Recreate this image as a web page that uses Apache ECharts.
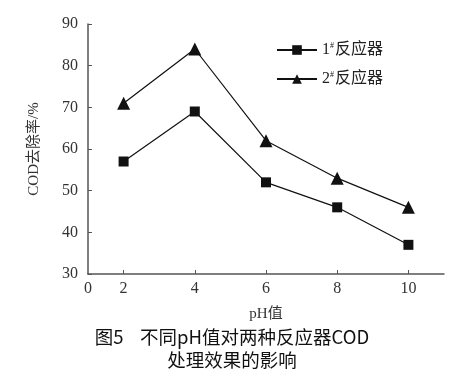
<!DOCTYPE html>
<html><head><meta charset="utf-8">
<script src="https://cdn.jsdelivr.net/npm/echarts@6/dist/echarts.min.js"></script>
<style>html,body{margin:0;padding:0;background:#fff}#c{width:462px;height:375px}</style>
</head><body><div id="c"></div>
<script>
const phValues = [2, 4, 6, 8, 10];
const reactor1 = [57, 69, 52, 46, 37];
const reactor2 = [71, 84, 62, 53, 46];
const xTickLabels = [1, 2, 4, 6, 8, 10];
const seriesNames = ['1#反应器', '2#反应器'];
const captionLines = ['图5    不同pH值对两种反应器COD', '处理效果的影响'];

const serif = '"Liberation Serif","DejaVu Serif",serif';
const cjk = '"Liberation Serif","Noto Sans CJK SC",serif';
const chart = echarts.init(document.getElementById('c'));
chart.setOption({
  animation: false,
  graphic: captionLines.map((t, i) => ({
    type: 'text', x: 232, y: 328 + i * 23,
    style: { text: t, textAlign: 'center', fontFamily: '"Noto Sans CJK SC",sans-serif', fontSize: 18.5, fill: '#111' }
  })),
  legend: {
    orient: 'vertical', left: 271, top: 37, itemWidth: 40, itemHeight: 12, itemGap: 13,
    data: seriesNames,
    formatter: function (n) { return n.charAt(0) + '{s|#}' + n.slice(2); },
    textStyle: { fontFamily: cjk, fontSize: 16, color: '#222',
      rich: { s: { fontSize: 8, verticalAlign: 'top', padding: [0, 1, 7, 0], fontFamily: serif, color: '#222' } } }
  },
  grid: { left: 88, right: 18, top: 24, bottom: 101 },
  xAxis: {
    type: 'value', min: 1, max: 11,
    name: 'pH值', nameLocation: 'middle', nameGap: 33,
    nameTextStyle: { fontFamily: cjk, fontSize: 15, color: '#333' },
    axisLine: { lineStyle: { color: '#555', width: 1.5 } },
    axisTick: { inside: true, length: 4, lineStyle: { color: '#555' }, customValues: phValues },
    axisLabel: { customValues: xTickLabels, margin: 7, fontFamily: serif, fontSize: 16, color: '#333',
      formatter: function (v) { return v === 1 ? '0' : String(v); } },
    splitLine: { show: false }
  },
  yAxis: {
    type: 'value', min: 30, max: 90, interval: 10,
    name: 'COD去除率/%', nameLocation: 'middle', nameGap: 46,
    nameTextStyle: { fontFamily: cjk, fontSize: 15, color: '#333' },
    axisLine: { show: true, lineStyle: { color: '#555', width: 1.5 } },
    axisTick: { show: true, inside: true, length: 4, lineStyle: { color: '#555' } },
    axisLabel: { margin: 10, fontFamily: serif, fontSize: 16, color: '#333' },
    splitLine: { show: false }
  },
  series: [
    { name: seriesNames[0], type: 'line', data: phValues.map((x, i) => [x, reactor1[i]]),
      symbol: 'rect', symbolSize: 10, lineStyle: { color: '#111', width: 1.2 }, itemStyle: { color: '#111' } },
    { name: seriesNames[1], type: 'line', data: phValues.map((x, i) => [x, reactor2[i]]),
      symbol: 'triangle', symbolSize: 13, lineStyle: { color: '#111', width: 1.2 }, itemStyle: { color: '#111' } }
  ]
});
</script></body></html>
